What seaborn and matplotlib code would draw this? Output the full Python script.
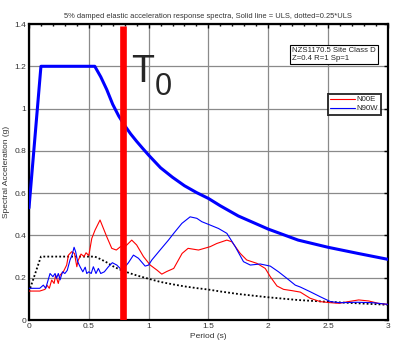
import numpy as np
import pandas as pd
import seaborn as sns
from matplotlib import pyplot as plt
from matplotlib.ticker import MultipleLocator

# ULS design spectrum (NZS1170.5, site class D)
uls_period = [0, 0.1, 0.55, 0.6, 0.65, 0.7, 0.75, 0.8, 0.85, 0.9, 0.95, 1.0, 1.1, 1.2, 1.3,
              1.4, 1.5, 1.6, 1.75, 2.0, 2.25, 2.5, 2.75, 3.0]
uls_acc = [0.53, 1.2, 1.2, 1.15, 1.09, 1.02, 0.965, 0.92, 0.88, 0.845, 0.812, 0.78, 0.72,
           0.675, 0.635, 0.603, 0.575, 0.54, 0.492, 0.43, 0.378, 0.344, 0.315, 0.287]
# dotted = 0.25*ULS
sls_acc = [0.133, 0.3, 0.3, 0.2875, 0.2725, 0.255, 0.241, 0.23, 0.22, 0.211, 0.203, 0.195,
           0.18, 0.169, 0.159, 0.151, 0.144, 0.135, 0.123, 0.1075, 0.0945, 0.086, 0.079, 0.072]

n00e_period = [0, 0.09, 0.134, 0.15, 0.17, 0.19, 0.21, 0.223, 0.245, 0.26, 0.287, 0.315, 0.33,
               0.357, 0.38, 0.40, 0.41, 0.435, 0.46, 0.477, 0.50, 0.525, 0.552, 0.594, 0.65,
               0.692, 0.73, 0.765, 0.80, 0.859, 0.90, 0.957, 1.013, 1.07, 1.11, 1.15, 1.21,
               1.28, 1.33, 1.417, 1.515, 1.57, 1.654, 1.696, 1.766, 1.82, 1.905, 1.975, 2.017,
               2.073, 2.128, 2.198, 2.268, 2.35, 2.435, 2.52, 2.59, 2.67, 2.756, 2.84, 2.92, 3.0]
n00e_acc = [0.137, 0.137, 0.145, 0.165, 0.15, 0.189, 0.173, 0.213, 0.173, 0.213, 0.228, 0.26,
            0.307, 0.323, 0.315, 0.252, 0.28, 0.312, 0.30, 0.318, 0.305, 0.386, 0.425, 0.473,
            0.394, 0.339, 0.331, 0.347, 0.345, 0.378, 0.355, 0.30, 0.26, 0.236, 0.217, 0.229,
            0.244, 0.315, 0.339, 0.331, 0.347, 0.362, 0.378, 0.37, 0.315, 0.284, 0.268, 0.244,
            0.205, 0.161, 0.145, 0.139, 0.132, 0.103, 0.087, 0.082, 0.079, 0.087, 0.095, 0.09,
            0.079, 0.074]

n90w_period = [0, 0.09, 0.12, 0.14, 0.176, 0.2, 0.218, 0.23, 0.245, 0.26, 0.28, 0.30, 0.32,
               0.343, 0.36, 0.377, 0.39, 0.407, 0.427, 0.45, 0.47, 0.483, 0.50, 0.52, 0.538,
               0.56, 0.58, 0.60, 0.63, 0.664, 0.697, 0.734, 0.776, 0.80, 0.83, 0.873, 0.915,
               0.971, 1.0, 1.027, 1.096, 1.166, 1.21, 1.278, 1.347, 1.403, 1.445, 1.515, 1.584,
               1.654, 1.724, 1.793, 1.85, 1.933, 2.017, 2.086, 2.156, 2.226, 2.268, 2.35, 2.435,
               2.52, 2.6, 2.74, 2.87, 3.0]
n90w_acc = [0.15, 0.15, 0.165, 0.15, 0.22, 0.205, 0.22, 0.197, 0.22, 0.19, 0.228, 0.22, 0.235,
            0.284, 0.307, 0.344, 0.323, 0.276, 0.252, 0.228, 0.25, 0.22, 0.228, 0.22, 0.252,
            0.22, 0.244, 0.22, 0.228, 0.252, 0.271, 0.26, 0.236, 0.25, 0.27, 0.307, 0.292,
            0.255, 0.26, 0.284, 0.331, 0.378, 0.41, 0.457, 0.488, 0.481, 0.465, 0.449, 0.433,
            0.41, 0.347, 0.276, 0.26, 0.265, 0.255, 0.228, 0.197, 0.165, 0.156, 0.134, 0.11,
            0.087, 0.082, 0.084, 0.082, 0.074]

t0 = 0.79
x_ticks = [0, 0.5, 1, 1.5, 2, 2.5, 3]
y_ticks = [0, 0.2, 0.4, 0.6, 0.8, 1, 1.2, 1.4]

sns.set_theme(style="white")
plt.rcParams['font.family'] = ['Liberation Sans', 'DejaVu Sans']

fig = plt.figure(figsize=(3.97, 3.43), dpi=100)
ax = fig.add_axes([0.073, 0.067, 0.904, 0.863])

uls = pd.DataFrame({"period": uls_period, "uls": uls_acc, "sls": sls_acc})
sns.lineplot(data=uls, x="period", y="uls", color="#0000ff", lw=2.2, ax=ax, zorder=3)
sns.lineplot(data=uls, x="period", y="sls", color="black", lw=1.3, ls=(0, (1, 1.2)), ax=ax, zorder=3)
sns.lineplot(x=n00e_period, y=n00e_acc, color="#ff0000", lw=0.8, ax=ax, label="N00E", zorder=3)
sns.lineplot(x=n90w_period, y=n90w_acc, color="#0000ff", lw=0.8, ax=ax, label="N90W", zorder=3)

ax.plot([t0, t0], [0, 1.39], color="#ff0000", lw=4.8, solid_capstyle="butt", zorder=5)
ax.text(0.855, 1.125, "T", fontsize=27, ha="left", va="baseline", zorder=6)
ax.text(1.05, 1.064, "0", fontsize=22, ha="left", va="baseline", zorder=6)

ax.text(0.733, 0.922, "NZS1170.5 Site Class D\nZ=0.4 R=1 Sp=1", transform=ax.transAxes,
        fontsize=5.6, ha="left", va="top", linespacing=1.2, zorder=6,
        bbox=dict(boxstyle="square,pad=0.25", fc="white", ec="black", lw=0.8))

leg = ax.legend(loc="upper right", bbox_to_anchor=(0.98, 0.765), fontsize=5.6, frameon=True,
                fancybox=False, handlelength=3.2, handletextpad=0.2, borderpad=0.3,
                labelspacing=0.2, borderaxespad=0)
leg.get_frame().set_edgecolor("black")
leg.get_frame().set_linewidth(1.4)
leg.set_zorder(10)

ax.set_xlim(0, 3)
ax.set_ylim(0, 1.4)
ax.set_xticks(x_ticks)
ax.set_xticklabels([f"{v:g}" for v in x_ticks])
ax.set_yticks(y_ticks)
ax.set_yticklabels([f"{v:g}" for v in y_ticks])
ax.xaxis.set_minor_locator(MultipleLocator(0.1))
ax.grid(True, which="major", color="#8a8a8a", lw=0.9)
ax.set_axisbelow(True)
ax.tick_params(which="both", direction="in", top=True, right=True, labelsize=6,
               labelcolor="#333333", color="black", pad=2)
ax.tick_params(which="major", length=3, width=1)
ax.tick_params(which="minor", length=1.5, width=1)
for s in ax.spines.values():
    s.set_color("black")
    s.set_linewidth(1.6)

ax.set_xlabel("Period (s)", fontsize=6, color="#333333", labelpad=2)
ax.set_ylabel("Spectral Acceleration (g)", fontsize=6, color="#333333", labelpad=3)
ax.set_title("5% damped elastic acceleration response spectra, Solid line = ULS, dotted=0.25*ULS",
             fontsize=5.4, color="#333333", pad=4)

fig.savefig("out.png", dpi=100)
